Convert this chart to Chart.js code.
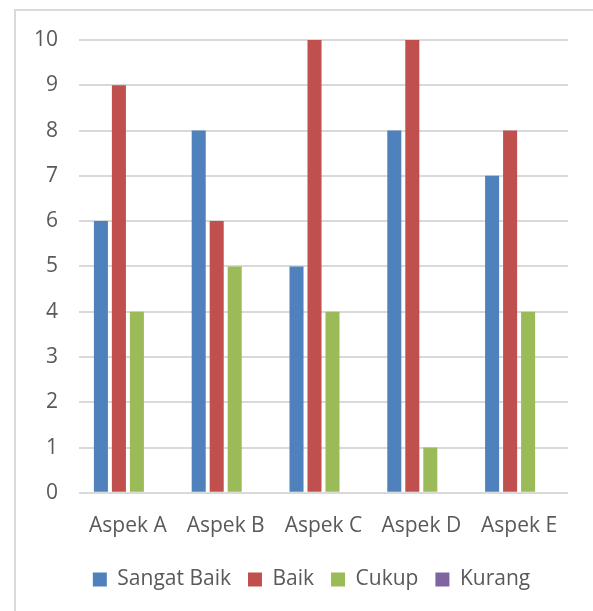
<!DOCTYPE html>
<html>
<head>
<meta charset="utf-8">
<script src="https://cdn.jsdelivr.net/npm/chart.js@4/dist/chart.umd.min.js"></script>
<style>
  html, body { margin: 0; padding: 0; background: #fff; overflow: hidden; }
  #wrap { position: absolute; left: 0; top: 0; width: 593px; height: 611px; }
</style>
</head>
<body>
<div id="wrap"><canvas id="grafik"></canvas></div>
<script>
const kategori = ['Aspek A', 'Aspek B', 'Aspek C', 'Aspek D', 'Aspek E'];
const sangatBaik = [6, 8, 5, 8, 7];
const baik = [9, 6, 10, 10, 8];
const cukup = [4, 5, 4, 1, 4];
const kurang = [0, 0, 0, 0, 0];
const tickY = [0, 1, 2, 3, 4, 5, 6, 7, 8, 9, 10];

const teks = '#595959';
const garis = '#d9d9d9';

// bingkai abu-abu di sekeliling grafik
const bingkai = {
    id: 'bingkai',
    beforeDraw(chart) {
        const c = chart.ctx;
        c.save();
        c.strokeStyle = garis;
        c.lineWidth = 2;
        c.strokeRect(15, 10, 700, 700);
        c.restore();
    }
};

// geser legenda sedikit ke kanan, supaya di tengah area plot
const geserLegenda = {
    id: 'geserLegenda',
    afterLayout(chart) {
        const lg = chart.legend;
        lg.left += 18;
        lg.right += 18;
    }
};

function seri(label, data, warna) {
    return {
        label: label,
        data: data,
        backgroundColor: warna,
        borderWidth: 0,
        categoryPercentage: 0.736,
        barPercentage: 0.78
    };
}

new Chart(document.getElementById('grafik'), {
    type: 'bar',
    data: {
        labels: kategori,
        datasets: [
            seri('Sangat Baik', sangatBaik, '#4F81BD'),
            seri('Baik', baik, '#C0504D'),
            seri('Cukup', cukup, '#9BBB59'),
            seri('Kurang', kurang, '#8064A2')
        ]
    },
    options: {
        responsive: true,
        maintainAspectRatio: false,
        animation: false,
        layout: {
            padding: { left: 19, right: 25, top: 40, bottom: 11 }
        },
        plugins: {
            legend: {
                position: 'bottom',
                labels: {
                    color: teks,
                    font: { family: 'Open Sans', size: 21 },
                    boxWidth: 14,
                    boxHeight: 14,
                    padding: 17
                }
            },
            tooltip: { enabled: false }
        },
        scales: {
            x: {
                grid: { display: false },
                border: { display: false },
                ticks: {
                    color: teks,
                    font: { family: 'Open Sans', size: 21 },
                    padding: 13,
                    maxRotation: 0
                }
            },
            y: {
                min: 0,
                max: 10,
                afterBuildTicks: s => { s.ticks = tickY.map(v => ({ value: v })); },
                afterFit: s => { s.width = 60; },
                grid: { color: garis, lineWidth: 2, drawTicks: false },
                border: { display: false },
                ticks: {
                    color: teks,
                    font: { family: 'Open Sans', size: 21 },
                    padding: 21
                }
            }
        }
    },
    plugins: [bingkai, geserLegenda]
});
</script>
</body>
</html>
